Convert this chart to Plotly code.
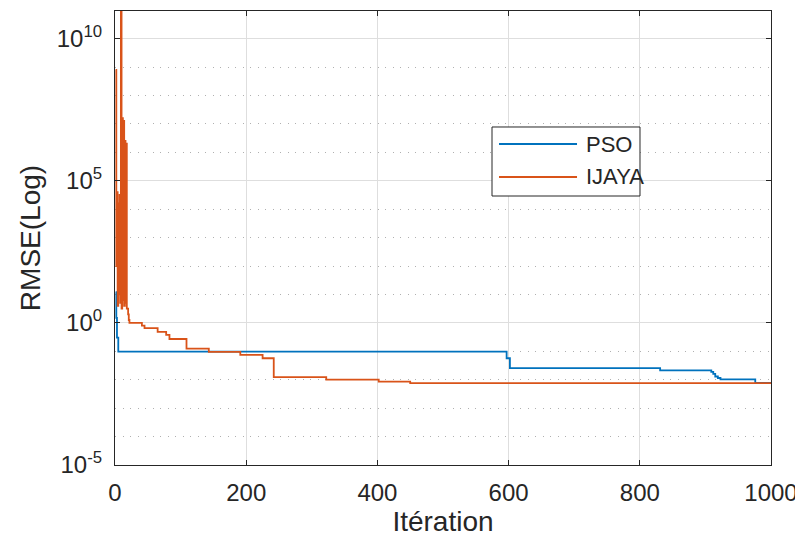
import plotly.graph_objects as go

# ---------------- data ----------------
# PSO convergence: breakpoints (iteration, best RMSE), step-held
pso_iter = [1, 2, 3, 5, 597, 602, 831, 909, 912, 915, 919, 923, 976, 1000]
pso_rmse = [12.0, 1.5, 0.3, 0.098, 0.057, 0.0254, 0.0214, 0.019, 0.016,
            0.013, 0.0115, 0.0102, 0.0077, 0.0077]

# IJAYA convergence: early oscillation (log10 values per iteration 1..22)
ijaya_early_iter = list(range(1, 23))
ijaya_early_log10 = [8.9, 2.0, 4.6, 0.6, 4.2, 1.0, 4.5, 0.7, 11.5, 0.5, 7.2,
                     0.8, 7.1, 0.6, 6.4, 0.7, 6.3, 0.5, 0.5, 0.3, 0.1, 0.0]
# IJAYA convergence after the oscillation: breakpoints, step-held
ijaya_late_iter = [41, 45, 65, 78, 83, 109, 143, 191, 225, 242, 322, 402, 450, 1000]
ijaya_late_rmse = [0.80, 0.65, 0.48, 0.38, 0.27, 0.125, 0.095, 0.075, 0.057,
                   0.0123, 0.0101, 0.0086, 0.0076, 0.0076]

x_ticks = [0, 200, 400, 600, 800, 1000]
y_ticks = [1e-5, 1e0, 1e5, 1e10]
y_ticktext = ["10<sup>-5</sup>", "10<sup>0</sup>", "10<sup>5</sup>", "10<sup>10</sup>"]
y_minor = [10.0 ** k for k in range(-4, 11) if k % 5 != 0]

series_names = ["PSO", "IJAYA"]
series_colors = ["#0072BD", "#D95319"]

# ---------------- figure ----------------
ijaya_iter = ijaya_early_iter + ijaya_late_iter
ijaya_rmse = [10.0 ** v for v in ijaya_early_log10] + ijaya_late_rmse

FONT = "Liberation Sans, Arial, Helvetica, sans-serif"
TXT = "#262626"
LW = 1.8

fig = go.Figure()
fig.add_trace(go.Scatter(x=pso_iter, y=pso_rmse, mode="lines", name=series_names[0],
                         line=dict(color=series_colors[0], width=LW, shape="hv"),
                         showlegend=False))
fig.add_trace(go.Scatter(x=ijaya_iter, y=ijaya_rmse, mode="lines", name=series_names[1],
                         line=dict(color=series_colors[1], width=LW, shape="hv"),
                         showlegend=False))

# manual MATLAB-style legend box (paper coordinates)
lx0, lx1, ly0, ly1 = 0.5747, 0.8003, 0.5925, 0.7445
fig.add_shape(type="rect", xref="paper", yref="paper", x0=lx0, x1=lx1, y0=ly0, y1=ly1,
              line=dict(color="#262626", width=1), fillcolor="white", layer="above")
for i, (yy, name) in enumerate(zip([0.7070, 0.6344], series_names)):
    fig.add_shape(type="line", xref="paper", yref="paper", x0=0.5854, x1=0.7043,
                  y0=yy, y1=yy, line=dict(color=series_colors[i], width=LW), layer="above")
    fig.add_annotation(xref="paper", yref="paper", x=0.7149, y=yy, text=name,
                       showarrow=False, xanchor="left", yanchor="middle",
                       font=dict(family=FONT, size=22, color=TXT))

# the page body adds an 8px offset, so the figure is 8px smaller and margins shifted
fig.update_layout(
    width=795, height=537,
    margin=dict(l=107, r=32, t=3, b=80, autoexpand=False),
    paper_bgcolor="white", plot_bgcolor="white",
    font=dict(family=FONT, color=TXT),
)
fig.update_xaxes(
    automargin=False,
    range=[0, 1000], tickvals=x_ticks, ticks="inside", ticklen=5, tickcolor=TXT,
    showline=True, linecolor=TXT, linewidth=1.2, mirror="ticks",
    showgrid=True, gridcolor="#dedede", gridwidth=1, zeroline=False,
    tickfont=dict(size=24, color=TXT), ticklabelstandoff=6,
    title=dict(text="Itération", font=dict(size=28, color=TXT), standoff=2),
)
fig.update_yaxes(
    automargin=False,
    type="log", range=[-5, 10.97], tickvals=y_ticks, ticktext=y_ticktext,
    ticks="inside", ticklen=5, tickcolor=TXT,
    showline=True, linecolor=TXT, linewidth=1.2, mirror="ticks",
    showgrid=True, gridcolor="#dedede", gridwidth=1, zeroline=False,
    tickfont=dict(size=24, color=TXT), ticklabelstandoff=7,
    minor=dict(tickmode="array", tickvals=y_minor, showgrid=True, gridcolor="#b0b0b0",
               griddash="1px,6.5px", gridwidth=1, ticklen=0),
    title=dict(text="RMSE(Log)", font=dict(size=28, color=TXT), standoff=7),
)

fig.write_html("out.html")
